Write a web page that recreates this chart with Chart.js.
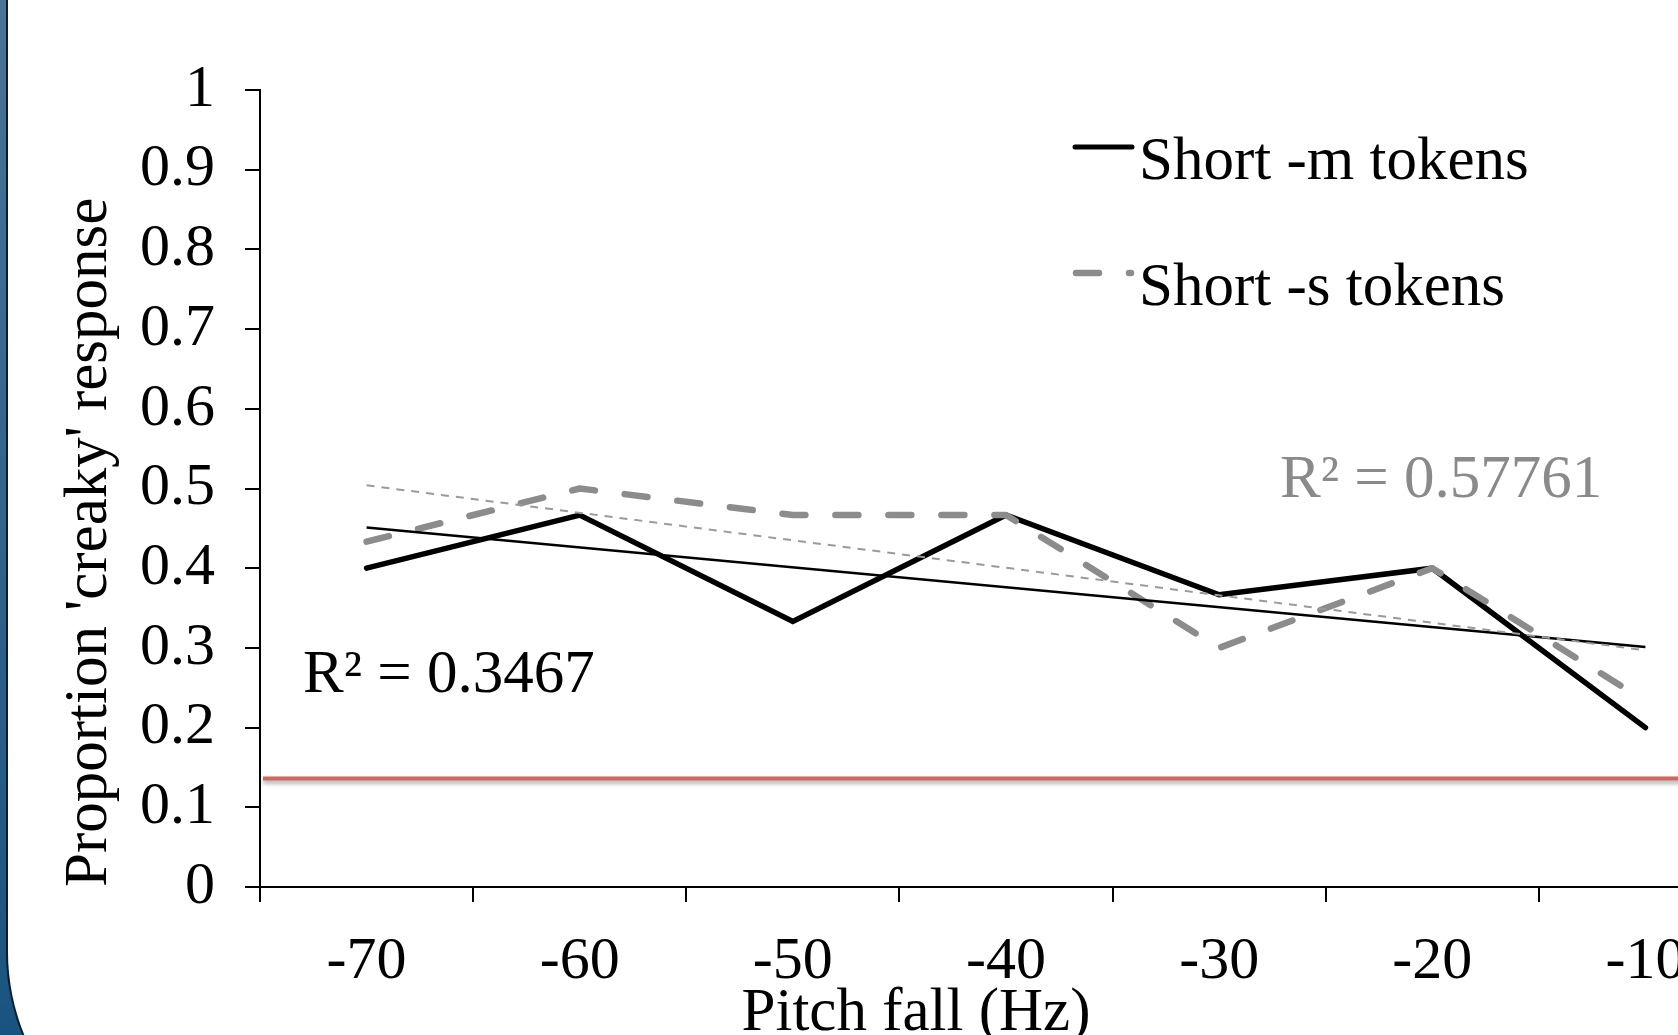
<!DOCTYPE html>
<html><head><meta charset="utf-8">
<script src="https://cdn.jsdelivr.net/npm/chart.js@4.4.1/dist/chart.umd.min.js"></script>
<style>
html,body{margin:0;padding:0;width:1678px;height:1035px;overflow:hidden;background:linear-gradient(#4a7398,#195480);}
#panel{position:absolute;left:6px;top:-300px;width:2100px;height:1471px;background:#fff;border-left:2px solid #0d1d30;border-bottom:2px solid #0d1d30;border-bottom-left-radius:221px;}
#wrap{position:absolute;left:0;top:0;width:1800px;height:1100px;}
</style></head><body>
<div id="panel"></div>
<div id="wrap"><canvas id="c" width="1800" height="1100"></canvas></div>
<script>
const categories = ['-70','-60','-50','-40','-30','-20','-10'];
const shortM = [0.4, 0.4667, 0.3333, 0.4667, 0.3667, 0.4, 0.2];
const shortS = [0.4333, 0.5, 0.4667, 0.4667, 0.3, 0.4, 0.2333];
const trendM = [0.451, null, null, null, null, null, 0.301];
const trendS = [0.504, null, null, null, null, null, 0.297];
const chanceLevel = 0.136;
const yTickLabels = ['0','0.1','0.2','0.3','0.4','0.5','0.6','0.7','0.8','0.9','1'];
const legendLabels = ['Short -m tokens','Short -s tokens'];
const r2Labels = ['R\u00B2 = 0.3467','R\u00B2 = 0.57761'];
const xTitle = 'Pitch fall (Hz)';
const yTitle = "Proportion 'creaky' response";

const FONT = "'Liberation Serif','Times New Roman',serif";
const GRAY = '#8c8c8c';

const overlay = {
  id: 'overlay',
  afterDatasetsDraw(chart) {
    const {ctx, chartArea: a, scales: {y}} = chart;
    const py = y.getPixelForValue(chanceLevel);
    ctx.save();
    ctx.shadowColor = 'rgba(0,0,0,0.35)';
    ctx.shadowOffsetY = 3;
    ctx.shadowBlur = 4;
    ctx.strokeStyle = '#d0675f';
    ctx.lineWidth = 4;
    ctx.beginPath();
    ctx.moveTo(a.left + 3, py);
    ctx.lineTo(chart.width, py);
    ctx.stroke();
    ctx.restore();
  },
  afterDraw(chart) {
    const {ctx, chartArea: a} = chart;
    ctx.save();
    ctx.font = '61px ' + FONT;
    ctx.textBaseline = 'alphabetic';
    ctx.textAlign = 'left';
    // legend
    const lx = a.left + 815;
    ctx.lineCap = 'round';
    ctx.strokeStyle = '#000';
    ctx.lineWidth = 5;
    ctx.beginPath(); ctx.moveTo(lx, a.top + 57); ctx.lineTo(lx + 57, a.top + 57); ctx.stroke();
    ctx.strokeStyle = GRAY;
    ctx.lineWidth = 6.5;
    ctx.setLineDash([23, 30]);
    ctx.beginPath(); ctx.moveTo(lx + 1, a.top + 183); ctx.lineTo(lx + 56, a.top + 183); ctx.stroke();
    ctx.setLineDash([]);
    ctx.fillStyle = '#000';
    ctx.fillText(legendLabels[0], a.left + 879, a.top + 89);
    ctx.fillText(legendLabels[1], a.left + 879, a.top + 215);
    // R² labels
    ctx.fillStyle = '#000';
    ctx.fillText(r2Labels[0], a.left + 43, a.top + 602);
    ctx.fillStyle = '#8a8a8a';
    ctx.fillText(r2Labels[1], a.left + 1020, a.top + 407);
    // x axis title
    ctx.fillStyle = '#000';
    ctx.textAlign = 'center';
    ctx.fillText(xTitle, a.left + 656, a.bottom + 143);
    ctx.restore();
  }
};

new Chart(document.getElementById('c'), {
  type: 'line',
  data: {
    labels: categories,
    datasets: [
      {label: legendLabels[0], data: shortM, borderColor: '#000', borderWidth: 5.5, borderCapStyle: 'round', borderJoinStyle: 'miter', pointRadius: 0, tension: 0, fill: false, order: 4},
      {label: legendLabels[1], data: shortS, borderColor: GRAY, borderWidth: 6.5, borderDash: [23, 30], borderCapStyle: 'round', borderJoinStyle: 'round', pointRadius: 0, tension: 0, fill: false, order: 3},
      {label: 'Linear (Short -m tokens)', data: trendM, borderColor: '#000', borderWidth: 2.5, spanGaps: true, pointRadius: 0, fill: false, order: 2},
      {label: 'Linear (Short -s tokens)', data: trendS, borderColor: '#9a9a9a', borderWidth: 2, borderDash: [8, 7], spanGaps: true, pointRadius: 0, fill: false, order: 1}
    ]
  },
  options: {
    responsive: false,
    animation: false,
    devicePixelRatio: 1,
    layout: {padding: {top: 90, right: 48, left: 0, bottom: 0}},
    plugins: {legend: {display: false}, tooltip: {enabled: false}, title: {display: false}},
    scales: {
      x: {
        type: 'category',
        offset: true,
        grid: {display: true, offset: true, drawOnChartArea: false, drawTicks: true, tickLength: 15, color: '#000', lineWidth: 2},
        border: {display: true, color: '#000', width: 2},
        ticks: {color: '#000', font: {family: FONT, size: 60}, padding: 24, maxRotation: 0, autoSkip: false},
        afterFit(s) { s.height = 1100 - 887; }
      },
      y: {
        min: 0, max: 1,
        ticks: {stepSize: 0.1, color: '#000', font: {family: FONT, size: 60}, padding: 30, callback: (v, i) => yTickLabels[i]},
        grid: {display: true, drawOnChartArea: false, drawTicks: true, tickLength: 15, color: '#000', lineWidth: 2},
        border: {display: true, color: '#000', width: 2},
        title: {display: true, text: yTitle, align: 'start', color: '#000', font: {family: FONT, size: 61, lineHeight: 1.2}, padding: {top: 53, bottom: 0}},
        afterFit(s) { s.width = 260; }
      }
    }
  },
  plugins: [overlay]
});
</script>
</body></html>
